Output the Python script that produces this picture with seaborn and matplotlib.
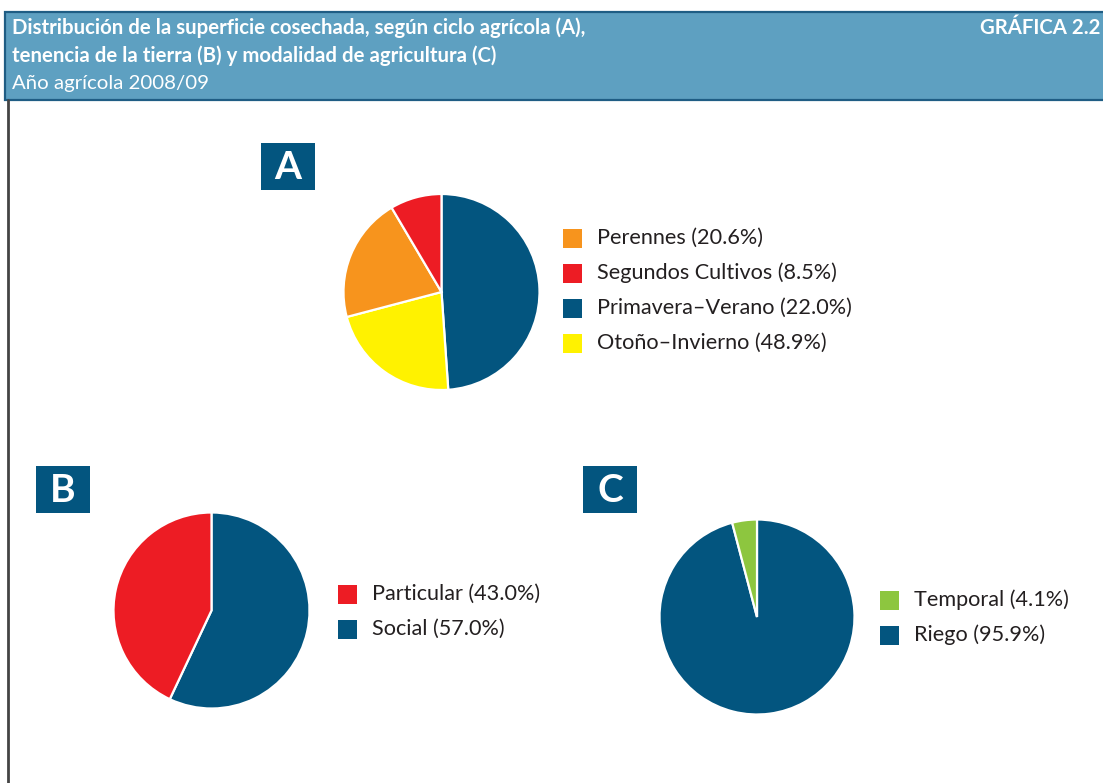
import matplotlib
matplotlib.use("Agg")
import matplotlib.pyplot as plt
from matplotlib.patches import Rectangle
import seaborn as sns

# ---------------- data ----------------
title_lines = ["Distribución de la superficie cosechada, según ciclo agrícola (A),",
               "tenencia de la tierra (B) y modalidad de agricultura (C)"]
subtitle = "Año agrícola 2008/09"
chart_id = "GRÁFICA 2.2"

# Panel A (wedges as drawn, clockwise from top)
a_values = [48.9, 22.0, 20.6, 8.5]
a_colors = ["#03557f", "#fff200", "#f7941d", "#ed1c24"]
a_legend_labels = ["Perennes (20.6%)", "Segundos Cultivos (8.5%)",
                   "Primavera–Verano (22.0%)", "Otoño–Invierno (48.9%)"]
a_legend_colors = ["#f7941d", "#ed1c24", "#03557f", "#fff200"]

# Panel B
b_values = [57.0, 43.0]
b_colors = ["#03557f", "#ed1c24"]
b_legend_labels = ["Particular (43.0%)", "Social (57.0%)"]
b_legend_colors = ["#ed1c24", "#03557f"]

# Panel C
c_values = [95.9, 4.1]
c_colors = ["#03557f", "#8dc63f"]
c_legend_labels = ["Temporal (4.1%)", "Riego (95.9%)"]
c_legend_colors = ["#8dc63f", "#03557f"]

# ---------------- style ----------------
sns.set_theme(style="white")
plt.rcParams["font.family"] = ["Lato", "DejaVu Sans"]

W, H = 1103, 783
DPI = 100
fig = plt.figure(figsize=(W / DPI, H / DPI), dpi=DPI)
fig.patch.set_facecolor("white")

def fx(x):
    return x / W

def fy(y):
    return 1 - y / H

# header band
fig.patches.append(Rectangle((fx(5), fy(100)), fx(W + 10), (100 - 12.5) / H,
                             transform=fig.transFigure, facecolor="#5ea0c1",
                             edgecolor="#1f5d84", linewidth=1.6, zorder=0))
# left border line
fig.add_artist(plt.Line2D([fx(7.5), fx(7.5)], [fy(100), 0], transform=fig.transFigure,
                          color="#444444", linewidth=2))

TFS = 14.7
fig.text(fx(12), fy(28), title_lines[0], color="white", fontsize=TFS,
         fontweight="bold", va="center", ha="left")
fig.text(fx(12), fy(56), title_lines[1], color="white", fontsize=TFS,
         fontweight="bold", va="center", ha="left")
fig.text(fx(12), fy(83), subtitle, color="white", fontsize=TFS,
         va="center", ha="left")
fig.text(fx(1100), fy(28), chart_id, color="white", fontsize=TFS,
         fontweight="bold", va="center", ha="right")


def draw_pie(values, colors, cx, cy, r):
    ax = fig.add_axes([fx(cx - r), fy(cy + r), 2 * r / W, 2 * r / H])
    ax.pie(values, colors=colors, startangle=90, counterclock=False, radius=1,
           wedgeprops=dict(edgecolor="white", linewidth=1.6))
    ax.set_xlim(-1.0, 1.0)
    ax.set_ylim(-1.0, 1.0)
    ax.axis("off")
    for p in ax.patches:
        p.set_clip_on(False)
    return ax


def draw_legend(labels, colors, x, y0, dy):
    for i, (lab, col) in enumerate(zip(labels, colors)):
        y = y0 + i * dy
        fig.patches.append(Rectangle((fx(x), fy(y + 9.5)), 19 / W, 19 / H,
                                     transform=fig.transFigure, facecolor=col,
                                     edgecolor="none"))
        fig.text(fx(x + 34), fy(y), lab, fontsize=15.6, color="#231f20",
                 va="center", ha="left")


def draw_tag(letter, x0, y0, x1, y1):
    fig.patches.append(Rectangle((fx(x0), fy(y1)), (x1 - x0) / W, (y1 - y0) / H,
                                 transform=fig.transFigure, facecolor="#03557f",
                                 edgecolor="none"))
    fig.text(fx((x0 + x1) / 2), fy((y0 + y1) / 2 + 1), letter, color="white",
             fontsize=28, fontweight="bold", ha="center", va="center")


draw_pie(a_values, a_colors, 441.5, 292, 98)
draw_pie(b_values, b_colors, 211.5, 610.5, 98)
draw_pie(c_values, c_colors, 757, 617, 97.5)

draw_legend(a_legend_labels, a_legend_colors, 563, 238, 35)
draw_legend(b_legend_labels, b_legend_colors, 338, 594, 35)
draw_legend(c_legend_labels, c_legend_colors, 880, 600, 35)

draw_tag("A", 261, 143, 315, 190)
draw_tag("B", 36, 466, 90, 513)
draw_tag("C", 583, 466, 637, 513)

fig.savefig("out.png", dpi=DPI, facecolor="white")
